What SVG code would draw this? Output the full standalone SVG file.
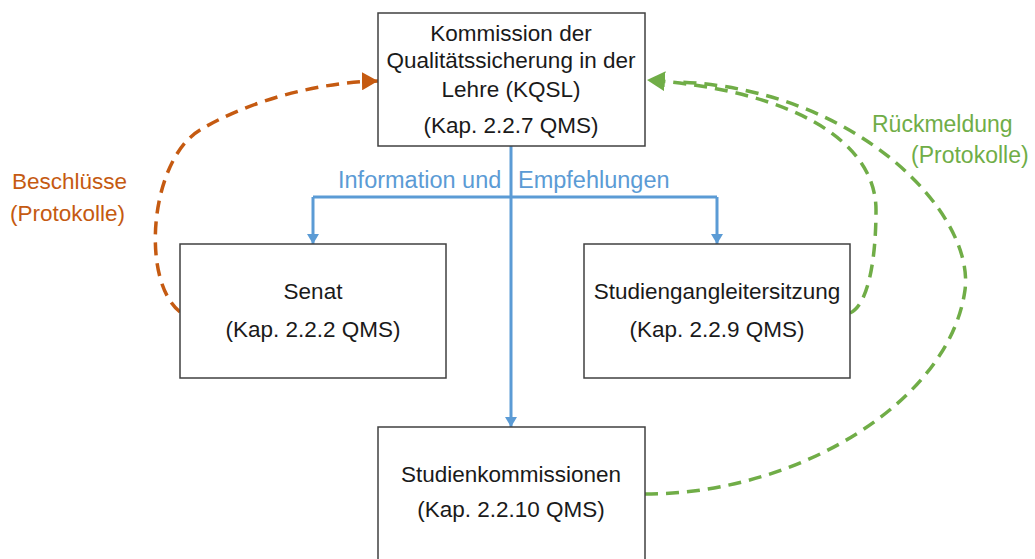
<svg xmlns="http://www.w3.org/2000/svg" width="1035" height="559" viewBox="0 0 1035 559">
<style>
.box{fill:#fff;stroke:#404040;stroke-width:1.5}
.t{font-family:"Liberation Sans",Arial,sans-serif;font-size:22.5px;fill:#1a1a1a;text-anchor:middle}
.blue{fill:none;stroke:#5B9BD5;stroke-width:3}
.org{fill:none;stroke:#C55A11;stroke-width:3.5;stroke-dasharray:13 8}
.grn{fill:none;stroke:#70AD47;stroke-width:3.5;stroke-dasharray:13 8}
.lbl{font-family:"Liberation Sans",Arial,sans-serif;font-size:23px}
</style>
<defs>
<marker id="ab" markerUnits="userSpaceOnUse" markerWidth="14" markerHeight="12" refX="10" refY="6" orient="auto"><path d="M0,0 L10,6 L0,12 z" fill="#5B9BD5"/></marker>
<marker id="ao" markerUnits="userSpaceOnUse" markerWidth="18" markerHeight="18" refX="16" refY="9" orient="auto"><path d="M0,0 L16,9 L0,18 z" fill="#C55A11"/></marker>
<marker id="ag" markerUnits="userSpaceOnUse" markerWidth="20" markerHeight="20" refX="18" refY="10" orient="auto"><path d="M0,0 L18,10 L0,20 z" fill="#70AD47"/></marker>
</defs>
<g id="connectors">
<path class="blue" d="M511,146 V427" marker-end="url(#ab)"/>
<path class="blue" d="M313,197 H717"/>
<path class="blue" d="M313,197 V244" marker-end="url(#ab)"/>
<path class="blue" d="M717,197 V244" marker-end="url(#ab)"/>
<text class="lbl" fill="#5B9BD5" y="188" style="font-size:23.5px"><tspan x="338">Information und</tspan><tspan x="518">Empfehlungen</tspan></text>
<path class="org" d="M180,312 C140,280 150,160 200,130 C250,100 320,82 378,81" marker-end="url(#ao)"/>
<text class="lbl" fill="#C55A11" x="12" y="189" style="font-size:22.5px">Beschlüsse</text>
<text class="lbl" fill="#C55A11" x="10" y="221" style="font-size:22.5px">(Protokolle)</text>
<path class="grn" d="M850,313 C868,305 876,260 876,210 C876,140 790,90 647,80" marker-end="url(#ag)"/>
<path class="grn" d="M645,494 C800,494 950,400 965,290 C975,215 860,90 680,82"/>
<text class="lbl" fill="#70AD47" x="872" y="132">Rückmeldung</text>
<text class="lbl" fill="#70AD47" x="911" y="163">(Protokolle)</text>
</g>
<g id="kqsl">
<rect class="box" x="378" y="13" width="267" height="133"/>
<text class="t" x="511" y="41">Kommission der</text>
<text class="t" x="511" y="68">Qualitätssicherung in der</text>
<text class="t" x="511" y="97">Lehre (KQSL)</text>
<text class="t" x="511" y="133">(Kap. 2.2.7 QMS)</text>
</g>
<g id="senat">
<rect class="box" x="180" y="244" width="266" height="134"/>
<text class="t" x="313" y="299">Senat</text>
<text class="t" x="313" y="337">(Kap. 2.2.2 QMS)</text>
</g>
<g id="studiengang">
<rect class="box" x="584" y="244" width="266" height="134"/>
<text class="t" x="717" y="299">Studiengangleitersitzung</text>
<text class="t" x="717" y="337">(Kap. 2.2.9 QMS)</text>
</g>
<g id="studienkommissionen">
<rect class="box" x="378" y="427" width="267" height="140"/>
<text class="t" x="511" y="482">Studienkommissionen</text>
<text class="t" x="511" y="517">(Kap. 2.2.10 QMS)</text>
</g>
</svg>
